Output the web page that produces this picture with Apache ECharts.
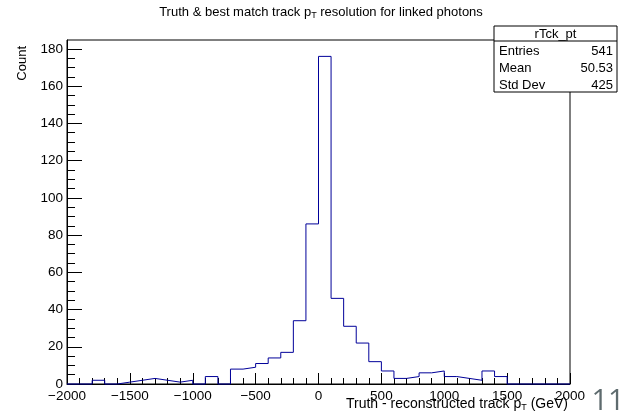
<!DOCTYPE html>
<html>
<head>
<meta charset="utf-8">
<script src="https://cdn.jsdelivr.net/npm/echarts@6/dist/echarts.min.js"></script>
<style>
  html, body { margin: 0; padding: 0; background: #ffffff; }
  #chart { width: 627px; height: 419px; }
</style>
</head>
<body>
<div id="chart"></div>
<script>
// Histogram of truth minus reconstructed track pT, 100 GeV bins
const binStarts = [
  -2000, -1900, -1800, -1700, -1600, -1500, -1400, -1300, -1200, -1100,
  -1000,  -900,  -800,  -700,  -600,  -500,  -400,  -300,  -200,  -100,
      0,   100,   200,   300,   400,   500,   600,   700,   800,   900,
   1000,  1100,  1200,  1300,  1400,  1500,  1600,  1700,  1800,  1900
];
const binEnd = 2000;
const counts = [
   0,  0,  2,  0,  1,  2,  3,  2,  1,  2,
   0,  4,  0,  8,  9, 11, 14, 17, 34, 86,
 176, 46, 31, 22, 12,  7,  3,  4,  6,  7,
   4,  3,  2,  7,  4,  0,  0,  0,  0,  0
];

// Axis ticks
const xMajorTicks = [-2000, -1500, -1000, -500, 0, 500, 1000, 1500, 2000];
const yMajorTicks = [0, 20, 40, 60, 80, 100, 120, 140, 160, 180];
const yMinorStep = 5;
const yMax = 184.8;

// Statistics box
const statTitle = 'rTck_pt';
const statNames = ['Entries', 'Mean', 'Std Dev'];
const statValues = ['541', '50.53', '425'];

const FONT = '"Liberation Sans", Arial, Helvetica, sans-serif';
const lineColor = '#000099';

const yMinorTicks = [];
for (let v = 0; v <= yMajorTicks[yMajorTicks.length - 1]; v += yMinorStep) yMinorTicks.push(v);

const stepData = binStarts.map((x, i) => [x, counts[i]]);
stepData.push([binEnd, counts[counts.length - 1]]);

const chart = echarts.init(document.getElementById('chart'), null, { renderer: 'canvas' });

// Stats box graphics
const boxX = 494, boxY = 26, boxW = 123, boxH = 66, headH = 15;
const statGraphics = [
  { type: 'rect', shape: { x: boxX, y: boxY, width: boxW, height: boxH },
    style: { fill: '#fff', stroke: '#000', lineWidth: 1 }, z: 100 },
  { type: 'line', shape: { x1: boxX, y1: boxY + headH, x2: boxX + boxW, y2: boxY + headH },
    style: { stroke: '#000', lineWidth: 1 }, z: 101 },
  { type: 'text', x: boxX + boxW / 2, y: boxY + headH / 2 + 0.5, z: 101,
    style: { text: statTitle, font: '13px ' + FONT, fill: '#000', align: 'center', verticalAlign: 'middle' } }
];
statNames.forEach((name, i) => {
  const cy = boxY + headH + 10 + i * 17;
  statGraphics.push({ type: 'text', x: boxX + 5, y: cy, z: 101,
    style: { text: name, font: '13px ' + FONT, fill: '#000', align: 'left', verticalAlign: 'middle' } });
  statGraphics.push({ type: 'text', x: boxX + boxW - 4, y: cy, z: 101,
    style: { text: statValues[i], font: '13px ' + FONT, fill: '#000', align: 'right', verticalAlign: 'middle' } });
});

const subStyle = { font: '9px ' + FONT, fill: '#000', verticalAlign: 'bottom', padding: [8, 0, 0, 0] };

const option = {
  backgroundColor: '#ffffff',
  animation: false,
  grid: {
    left: 67, right: 57, top: 40, bottom: 35,
    show: true, borderColor: '#000', borderWidth: 1,
    containLabel: false, outerBoundsMode: 'none'
  },
  xAxis: {
    type: 'value',
    min: binStarts[0], max: binEnd, interval: 500,
    axisLine: { show: true, onZero: false, lineStyle: { color: '#000', width: 1 } },
    axisTick: { show: true, inside: true, length: 11, lineStyle: { color: '#000', width: 1 } },
    minorTick: { show: true, splitNumber: 5, length: 6, lineStyle: { color: '#000', width: 1 } },
    splitLine: { show: false },
    minorSplitLine: { show: false },
    axisLabel: {
      color: '#000', fontFamily: FONT, fontSize: 13.5, margin: 5,
      customValues: xMajorTicks,
      formatter: v => String(v).replace('-', '\u2212')
    }
  },
  yAxis: [
    {
      type: 'value', min: 0, max: yMax, position: 'left',
      axisLine: { show: true, onZero: false, lineStyle: { color: '#000', width: 1 } },
      axisTick: { show: true, inside: true, length: 15, customValues: yMajorTicks,
                  lineStyle: { color: '#000', width: 1 } },
      axisLabel: { color: '#000', fontFamily: FONT, fontSize: 13.5, margin: 4, customValues: yMajorTicks },
      splitLine: { show: false }
    },
    {
      type: 'value', min: 0, max: yMax, position: 'left',
      axisLine: { show: false, onZero: false },
      axisTick: { show: true, inside: true, length: 8, customValues: yMinorTicks,
                  lineStyle: { color: '#000', width: 1 } },
      axisLabel: { show: false },
      splitLine: { show: false }
    }
  ],
  graphic: [
    { type: 'text', x: 321, y: 12,
      style: {
        text: 'Truth & best match track p{sub|T} resolution for linked photons',
        font: '13px ' + FONT, fill: '#000', align: 'center', verticalAlign: 'middle',
        rich: { sub: subStyle }
      } },
    { type: 'text', x: 22, y: 46, rotation: Math.PI / 2,
      style: { text: 'Count', font: '13px ' + FONT, fill: '#000', align: 'right', verticalAlign: 'middle' } },
    { type: 'text', x: 568, y: 404,
      style: {
        text: 'Truth - reconstructed track p{sub|T} (GeV)', font: '14px ' + FONT, fill: '#000',
        align: 'right', verticalAlign: 'middle',
        rich: { sub: subStyle }
      } },
    { type: 'text', x: 608, y: 402,
      style: { text: '11', font: '29px "Open Sans", sans-serif', fill: '#5e6b6e', align: 'center', verticalAlign: 'middle' } }
  ].concat(statGraphics),
  series: [
    {
      type: 'line',
      step: 'end',
      data: stepData,
      xAxisIndex: 0, yAxisIndex: 0,
      showSymbol: false, symbol: 'none',
      lineStyle: { color: lineColor, width: 1 },
      clip: false,
      z: 5
    }
  ]
};

chart.setOption(option);
</script>
</body>
</html>
